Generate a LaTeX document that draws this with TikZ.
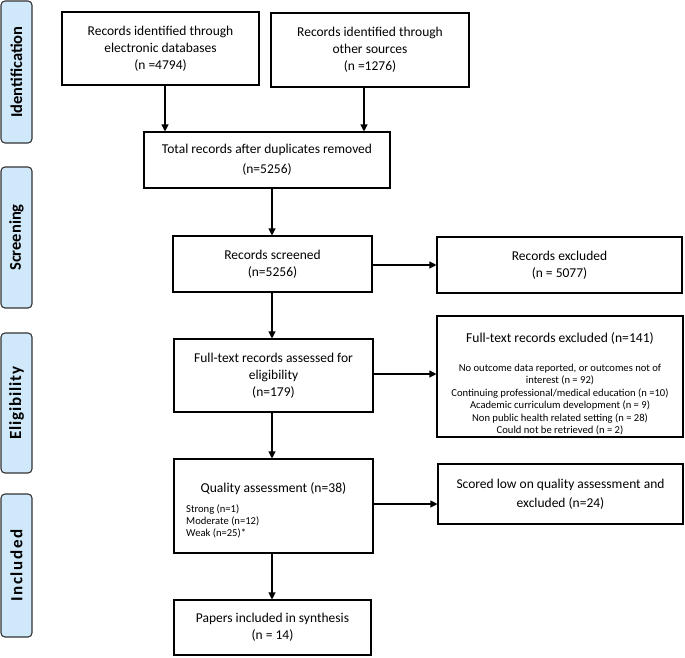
\documentclass[tikz,border=0pt]{standalone}
\usepackage{fontspec}
\setmainfont{Carlito}
\newfontfamily\phaseSpacedA[LetterSpace=5]{Carlito}
\newfontfamily\phaseSpacedB[LetterSpace=10]{Carlito}
\usetikzlibrary{arrows.meta}
\definecolor{phasefill}{HTML}{CFE8FA}
\definecolor{phaseline}{HTML}{333333}
\begin{document}
\begin{tikzpicture}[x=1pt,y=-1pt,
  box/.style={draw=black, line width=1.1pt, inner sep=0pt, align=center,
    font=\fontsize{13.5}{17}\selectfont},
  phase/.style={draw=phaseline, fill=phasefill, rounded corners=4pt, line width=1.1pt,
    rotate=90, minimum height=31pt, inner sep=0pt, font=\bfseries\fontsize{16}{18}\selectfont},
  arr/.style={line width=1.1pt, -{Triangle[length=7pt,width=7pt]}},
  bigtxt/.style={inner sep=0pt, align=center, font=\fontsize{13.6}{19}\selectfont},
  smalltxt/.style={inner sep=0pt, font=\fontsize{10.6}{12.5}\selectfont}]
\useasboundingbox (0,0) rectangle (685,657);

% phase labels
\node[phase, minimum width=142pt, font=\bfseries\fontsize{16.5}{18}\selectfont] (pid) at (16.5,72) {Identification};
\node[phase, minimum width=141pt, font=\bfseries\fontsize{16.5}{18}\selectfont] (psc) at (16.5,237.5) {Screening};
\node[phase, minimum width=140pt, font=\phaseSpacedA\bfseries\fontsize{17}{18}\selectfont] (pel) at (16.5,403) {Eligibility};
\node[phase, minimum width=143pt, font=\phaseSpacedB\bfseries\fontsize{17}{18}\selectfont] (pin) at (16.5,565.5) {Included};

% boxes
\node[box, minimum width=197pt, minimum height=73pt] (A) at (160.5,48.5)
  {Records identified through\\electronic databases\\(n =4794)};
\node[box, minimum width=198pt, minimum height=74pt] (B) at (370,50)
  {Records identified through\\other sources\\(n =1276)};
\node[box, minimum width=246pt, minimum height=56pt] (C) at (267,160)
  {Total records after duplicates removed\\[3pt](n=5256)};
\node[box, minimum width=199pt, minimum height=56pt] (S) at (272.5,264)
  {Records screened\\(n=5256)};
\node[box, minimum width=245pt, minimum height=56pt] (E1) at (559.5,265)
  {Records excluded\\(n = 5077)};
\node[box, minimum width=199pt, minimum height=73pt] (F) at (273.5,375.5)
  {Full-text records assessed for\\eligibility\\(n=179)};
\node[box, minimum width=246pt, minimum height=121pt] (E2) at (560,376.5) {};
\node[bigtxt] (E2t) at (560,338) {Full-text records excluded (n=141)};
\node[smalltxt, align=center] (E2l) at (560,399.5)
  {No outcome data reported, or outcomes not of\\interest (n = 92)\\Continuing professional/medical education (n =10)\\Academic curriculum development (n = 9)\\Non public health related setting (n = 28)\\Could not be retrieved (n = 2)};
\node[box, minimum width=199pt, minimum height=94pt] (Q) at (273.5,506) {};
\node[bigtxt] (Qt) at (273.5,489) {Quality assessment (n=38)};
\node[smalltxt, align=left, anchor=west, font=\fontsize{10.6}{12}\selectfont] (Ql) at (186,521)
  {Strong (n=1)\\Moderate (n=12)\\Weak (n=25)*};
\node[box, minimum width=245pt, minimum height=60pt, font=\fontsize{13.5}{19}\selectfont] (E3) at (560.5,494)
  {Scored low on quality assessment and\\excluded (n=24)};
\node[box, minimum width=197pt, minimum height=55pt] (P) at (272.5,627.5)
  {Papers included in synthesis\\(n = 14)};

% connector x/y positions
\coordinate (xa) at (165,0);
\coordinate (xb) at (364,0);
\coordinate (xm) at (272,0);
\coordinate (y1) at (0,265);
\coordinate (y2) at (0,374);
\coordinate (y3) at (0,504);

\draw[arr] (A.south -| xa) -- (C.north -| xa);
\draw[arr] (B.south -| xb) -- (C.north -| xb);
\draw[arr] (C.south -| xm) -- (S.north -| xm);
\draw[arr] (S.south -| xm) -- (F.north -| xm);
\draw[arr] (F.south -| xm) -- (Q.north -| xm);
\draw[arr] (Q.south -| xm) -- (P.north -| xm);
\draw[arr] (S.east |- y1) -- (E1.west |- y1);
\draw[arr] (F.east |- y2) -- (E2.west |- y2);
\draw[arr] (Q.east |- y3) -- (E3.west |- y3);
\end{tikzpicture}
\end{document}
